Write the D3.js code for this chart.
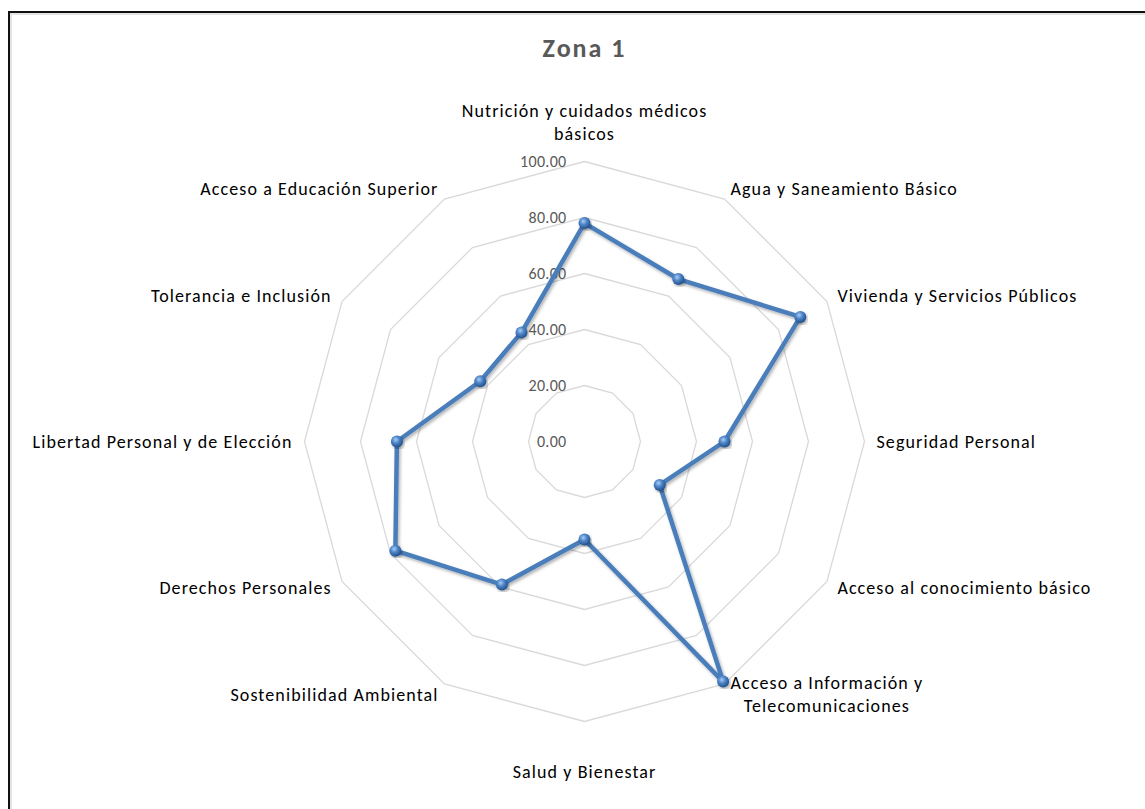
<!DOCTYPE html>
<html>
<head>
<meta charset="utf-8">
<script src="https://cdn.jsdelivr.net/npm/d3@7"></script>
<style>
  body { margin: 0; background: #fff; }
  svg { display: block; }
</style>
</head>
<body>
<div id="chart"></div>
<script>
// data
const title = "Zona 1";
const categories = [
  "Nutrición y cuidados médicos\nbásicos",
  "Agua y Saneamiento Básico",
  "Vivienda y Servicios Públicos",
  "Seguridad Personal",
  "Acceso al conocimiento básico",
  "Acceso a Información y\nTelecomunicaciones",
  "Salud y Bienestar",
  "Sostenibilidad Ambiental",
  "Derechos Personales",
  "Libertad Personal y de Elección",
  "Tolerancia e Inclusión",
  "Acceso a Educación Superior"
];
const values = [78, 67, 89, 50, 31, 99, 35, 59, 78, 67, 43, 45];
const ticks = [0, 20, 40, 60, 80, 100];

// setting canvas
const width = 1145;
const height = 809;
const cx = 584.5;
const cy = 441.5;
const radius = 280;
const font = "Carlito, Calibri, Lato, sans-serif";

const svg = d3.select("#chart")
  .append("svg")
  .attr("width", width)
  .attr("height", height);

// frame
svg.append("rect")
  .attr("x", 11).attr("y", 14)
  .attr("width", width).attr("height", height)
  .attr("fill", "none")
  .attr("stroke", "#e3e3e3")
  .attr("stroke-width", 2);
svg.append("rect")
  .attr("x", 9).attr("y", 12)
  .attr("width", width).attr("height", height)
  .attr("fill", "none")
  .attr("stroke", "#111")
  .attr("stroke-width", 2);

const defs = svg.append("defs");
const grad = defs.append("radialGradient")
  .attr("id", "dot")
  .attr("cx", "40%").attr("cy", "35%").attr("r", "65%");
grad.append("stop").attr("offset", "0%").attr("stop-color", "#a9cdf5");
grad.append("stop").attr("offset", "45%").attr("stop-color", "#4f86c9");
grad.append("stop").attr("offset", "100%").attr("stop-color", "#214f8a");

const filter = defs.append("filter").attr("id", "shadow")
  .attr("x", "-10%").attr("y", "-10%").attr("width", "120%").attr("height", "120%");
filter.append("feDropShadow")
  .attr("dx", 1.5).attr("dy", 2).attr("stdDeviation", 1.5)
  .attr("flood-color", "#000").attr("flood-opacity", 0.3);

const r = d3.scaleLinear().domain([0, 100]).range([0, radius]);
const angle = d3.scaleLinear().domain([0, categories.length]).range([0, 2 * Math.PI]);

const g = svg.append("g").attr("transform", "translate(" + cx + "," + cy + ")");

const point = (i, v) => [Math.sin(angle(i)) * r(v), -Math.cos(angle(i)) * r(v)];

const labelStyle = sel => sel
  .style("font-family", font)
  .style("font-size", "18px")
  .style("letter-spacing", "1.1px");

// grid rings
const ring = d3.line().curve(d3.curveLinearClosed);
g.selectAll(".ring")
  .data(ticks.filter(t => t > 0))
  .enter().append("path")
  .attr("class", "ring")
  .attr("d", t => ring(categories.map((c, i) => point(i, t))))
  .attr("fill", "none")
  .attr("stroke", "#d9d9d9")
  .attr("stroke-width", 1.3);

// tick labels
g.selectAll(".tick")
  .data(ticks)
  .enter().append("text")
  .attr("class", "tick")
  .attr("x", -18)
  .attr("y", t => -r(t))
  .attr("dy", "0.35em")
  .attr("text-anchor", "end")
  .style("font-family", font)
  .style("font-size", "16px")
  .style("letter-spacing", "0.3px")
  .attr("fill", "#595959")
  .text(t => t.toFixed(2));

// series
const pts = values.map((v, i) => point(i, v));
g.append("path")
  .attr("d", ring(pts))
  .attr("fill", "none")
  .attr("stroke", "#4a7ebb")
  .attr("stroke-width", 4.5)
  .attr("stroke-linejoin", "round")
  .attr("filter", "url(#shadow)");

g.selectAll(".dot")
  .data(pts)
  .enter().append("circle")
  .attr("class", "dot")
  .attr("cx", d => d[0])
  .attr("cy", d => d[1])
  .attr("r", 6)
  .attr("fill", "url(#dot)")
  .attr("filter", "url(#shadow)");

// category labels
const pad = 12;
const lineH = 23;
categories.forEach((c, i) => {
  const a = angle(i);
  const s = Math.sin(a), co = Math.cos(a);
  const lines = c.split("\n");
  let x = s * (r(100) + pad);
  let y = -co * (r(100) + pad);
  let anchor = s > 0.01 ? "start" : (s < -0.01 ? "end" : "middle");
  if (Math.abs(s) < 0.01 && co > 0) {
    // top: block sits above the ring
    y = -(r(100) + 20) - (lines.length - 1) * lineH - 8;
  } else if (Math.abs(s) < 0.01 && co < 0) {
    y = r(100) + 50;
  } else {
    y -= (lines.length - 1) * lineH / 2;
  }
  const t = g.append("text")
    .attr("x", x)
    .attr("y", y)
    .attr("text-anchor", anchor)
    .call(labelStyle)
    .attr("fill", "#000");
  if (lines.length > 1 && anchor === "start") {
    // wrapped block: lines centred within block
    const bw = d3.max(lines, l => {
      const m = g.append("text").call(labelStyle).text(l);
      const w = m.node().getComputedTextLength();
      m.remove();
      return w;
    });
    t.attr("text-anchor", "middle");
    x = x + bw / 2;
  }
  lines.forEach((l, k) => {
    t.append("tspan")
      .attr("x", x)
      .attr("y", y + k * lineH)
      .attr("dy", "0.35em")
      .text(l);
  });
});

// title
svg.append("text")
  .attr("x", cx)
  .attr("y", 48)
  .attr("dy", "0.35em")
  .attr("text-anchor", "middle")
  .style("font-family", font)
  .style("font-size", "26px")
  .style("font-weight", "bold")
  .style("letter-spacing", "2px")
  .attr("fill", "#595959")
  .text(title);
</script>
</body>
</html>
